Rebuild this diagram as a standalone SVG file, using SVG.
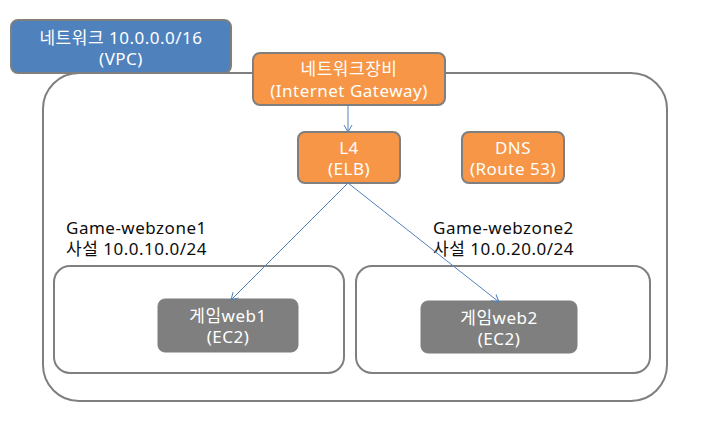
<svg xmlns="http://www.w3.org/2000/svg" width="711" height="438" viewBox="0 0 711 438">
<style>
text{font-family:"Noto Sans","Noto Sans CJK KR",sans-serif;font-size:17px;letter-spacing:0.5px}
.w{fill:#ffffff;text-anchor:middle}
.d{fill:#0d0d0d}
.org{fill:#f79646;stroke:#7f7f7f;stroke-width:2}
.grp{fill:#ffffff;stroke:#7f7f7f;stroke-width:2}
.ec2{fill:#7f7f7f;stroke:#7f7f7f;stroke-width:1}
.c{stroke:#4f81bd;stroke-width:1;fill:none;marker-end:url(#a)}
</style>
<defs>
<marker id="a" markerWidth="10" markerHeight="10" refX="8" refY="5" orient="auto" markerUnits="userSpaceOnUse">
<path d="M1,1 L8,5 L1,9" fill="none" stroke="#4f81bd" stroke-width="1"/>
</marker>
</defs>
<g id="vpc-area"><rect x="43" y="73" width="624" height="328" rx="36" class="grp"/></g>
<g id="vpc-label">
<rect x="11" y="20" width="220" height="53" rx="7" fill="#4f81bd" stroke="#7f7f7f" stroke-width="2"/>
<text class="w" x="121" y="44">네트워크 10.0.0.0/16</text>
<text class="w" x="121" y="65">(VPC)</text>
</g>
<g id="zone1">
<rect x="54" y="266" width="290" height="107" rx="16" class="grp"/>
<text class="d" x="66" y="234">Game-webzone1</text>
<text class="d" x="66" y="255">사설 10.0.10.0/24</text>
</g>
<g id="zone2">
<rect x="356" y="266" width="294" height="107" rx="16" class="grp"/>
<text class="d" x="433" y="234">Game-webzone2</text>
<text class="d" x="433" y="255">사설 10.0.20.0/24</text>
</g>
<g id="gateway">
<rect x="253" y="53" width="192" height="52" rx="7" class="org"/>
<text class="w" x="349" y="75">네트워크장비</text>
<text class="w" x="349" y="97">(Internet Gateway)</text>
</g>
<g id="elb">
<rect x="298" y="132" width="102" height="51" rx="7" class="org"/>
<text class="w" x="349" y="154">L4</text>
<text class="w" x="349" y="175">(ELB)</text>
</g>
<g id="dns">
<rect x="462" y="132" width="102" height="51" rx="7" class="org"/>
<text class="w" x="513" y="154">DNS</text>
<text class="w" x="513" y="175">(Route 53)</text>
</g>
<g id="web1">
<rect x="158" y="299" width="140" height="53" rx="7" class="ec2"/>
<text class="w" x="228" y="322">게임web1</text>
<text class="w" x="228" y="343">(EC2)</text>
</g>
<g id="web2">
<rect x="421" y="301" width="156" height="52" rx="7" class="ec2"/>
<text class="w" x="499" y="324">게임web2</text>
<text class="w" x="499" y="345">(EC2)</text>
</g>
<g id="connectors">
<path class="c" d="M348,105 L348,132"/>
<path class="c" d="M348,183 L231,300"/>
<path class="c" d="M348,183 L499,302"/>
</g>
</svg>
